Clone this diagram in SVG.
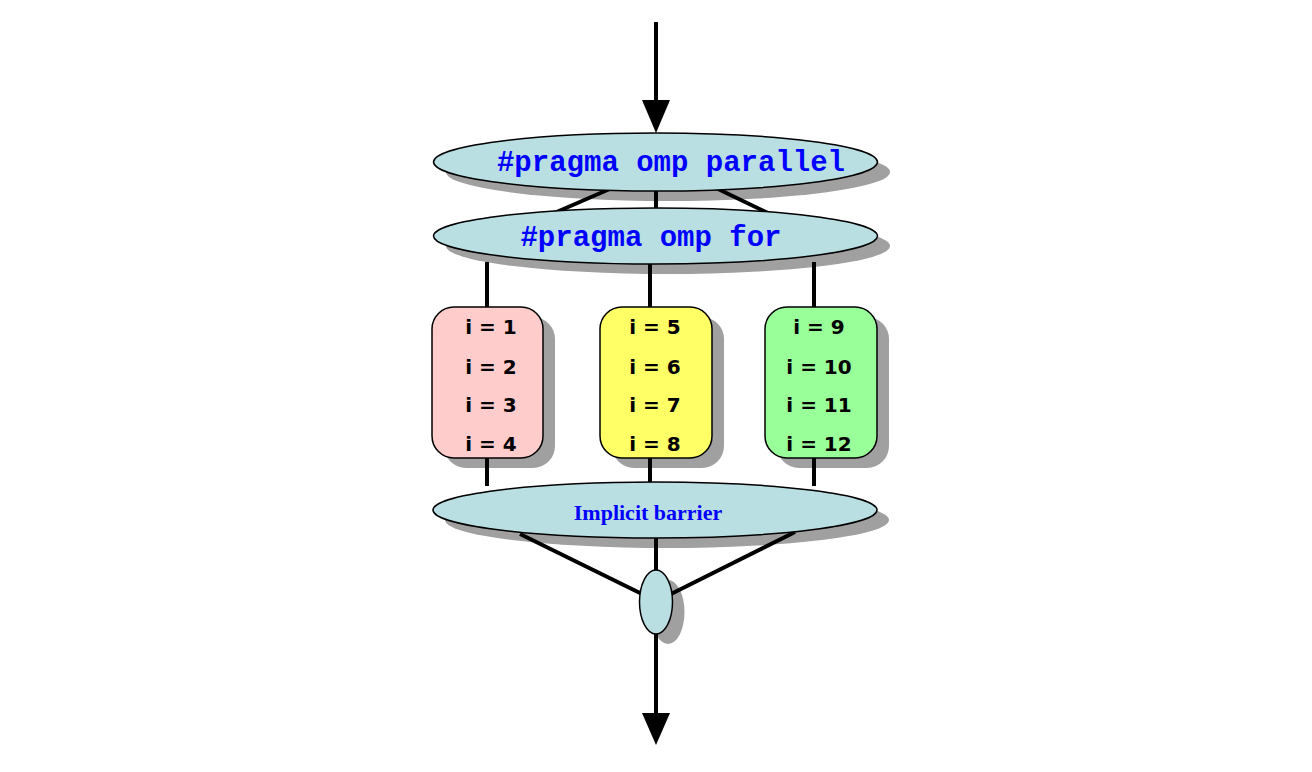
<svg xmlns="http://www.w3.org/2000/svg" width="1312" height="772" viewBox="0 0 1312 772">
<style>
.sh{fill:#a0a0a0}
.el{fill:#b9dfe3;stroke:#000;stroke-width:1.5}
.bx{stroke:#000;stroke-width:1.5}
.ln{stroke:#000;stroke-width:4;fill:none}
.code{font-family:"Liberation Mono","Courier New",monospace;font-weight:bold;font-size:29px;fill:#0000ff;text-anchor:middle}
.it{font-family:"DejaVu Sans",Verdana,sans-serif;font-weight:bold;font-size:20px;fill:#000;text-anchor:middle}
.bar{font-family:"Liberation Serif","Times New Roman",serif;font-weight:bold;font-size:22px;fill:#0000ff;text-anchor:middle}
</style>
<defs>
<marker id="ah" markerWidth="28" markerHeight="33" refX="28" refY="14" orient="auto" markerUnits="userSpaceOnUse" viewBox="0 0 33 28">
<path d="M0,0 L33,14 L0,28 Z" fill="#000"/>
</marker>
</defs>
<rect width="1312" height="772" fill="#fff"/>
<g id="shadows">
<ellipse class="sh" cx="668" cy="172" rx="222" ry="29"/>
<ellipse class="sh" cx="668" cy="246" rx="222" ry="28"/>
<rect class="sh" x="444" y="317" width="111" height="151" rx="22"/>
<rect class="sh" x="612" y="317" width="112" height="151" rx="22"/>
<rect class="sh" x="777" y="317" width="112" height="151" rx="22"/>
<ellipse class="sh" cx="667" cy="520" rx="222" ry="28"/>
<ellipse class="sh" cx="668" cy="612" rx="16.5" ry="32"/>
</g>
<g id="connectors">
<line class="ln" x1="656" y1="22" x2="656" y2="100"/>
<path d="M642,100 L670,100 L656,133 Z" fill="#000"/>
<line class="ln" x1="656" y1="190" x2="656" y2="212"/>
<line class="ln" x1="612" y1="188" x2="552" y2="214"/>
<line class="ln" x1="716" y1="188" x2="770" y2="214"/>
<line class="ln" x1="487" y1="262" x2="487" y2="308"/>
<line class="ln" x1="650" y1="262" x2="650" y2="308"/>
<line class="ln" x1="814" y1="262" x2="814" y2="308"/>
<line class="ln" x1="487" y1="456" x2="487" y2="486"/>
<line class="ln" x1="650" y1="456" x2="650" y2="486"/>
<line class="ln" x1="814" y1="456" x2="814" y2="486"/>
<line class="ln" x1="520" y1="534" x2="642" y2="594"/>
<line class="ln" x1="795" y1="532" x2="671" y2="594"/>
<line class="ln" x1="656" y1="536" x2="656" y2="572"/>
<line class="ln" x1="656" y1="632" x2="656" y2="713"/>
<path d="M642,713 L670,713 L656,745 Z" fill="#000"/>
</g>
<g id="parallel">
<ellipse class="el" cx="655.5" cy="162" rx="222" ry="29"/>
<text class="code" x="671" y="171">#pragma omp parallel</text>
</g>
<g id="for">
<ellipse class="el" cx="655.5" cy="236" rx="222" ry="28"/>
<text class="code" x="651" y="246">#pragma omp for</text>
</g>
<g id="thread1">
<rect class="bx" x="432" y="307" width="111" height="151" rx="22" fill="#ffcccc"/>
<text class="it" x="491" y="334">i = 1</text>
<text class="it" x="491" y="374">i = 2</text>
<text class="it" x="491" y="412">i = 3</text>
<text class="it" x="491" y="451">i = 4</text>
</g>
<g id="thread2">
<rect class="bx" x="600" y="307" width="112" height="151" rx="22" fill="#ffff66"/>
<text class="it" x="655" y="334">i = 5</text>
<text class="it" x="655" y="374">i = 6</text>
<text class="it" x="655" y="412">i = 7</text>
<text class="it" x="655" y="451">i = 8</text>
</g>
<g id="thread3">
<rect class="bx" x="765" y="307" width="112" height="151" rx="22" fill="#99ff99"/>
<text class="it" x="819" y="334">i = 9</text>
<text class="it" x="819" y="374">i = 10</text>
<text class="it" x="819" y="412">i = 11</text>
<text class="it" x="819" y="451">i = 12</text>
</g>
<g id="barrier">
<ellipse class="el" cx="655" cy="510" rx="222" ry="28"/>
<text class="bar" x="648" y="520">Implicit barrier</text>
</g>
<g id="join">
<ellipse class="el" cx="656" cy="602" rx="16.5" ry="32"/>
</g>
</svg>
